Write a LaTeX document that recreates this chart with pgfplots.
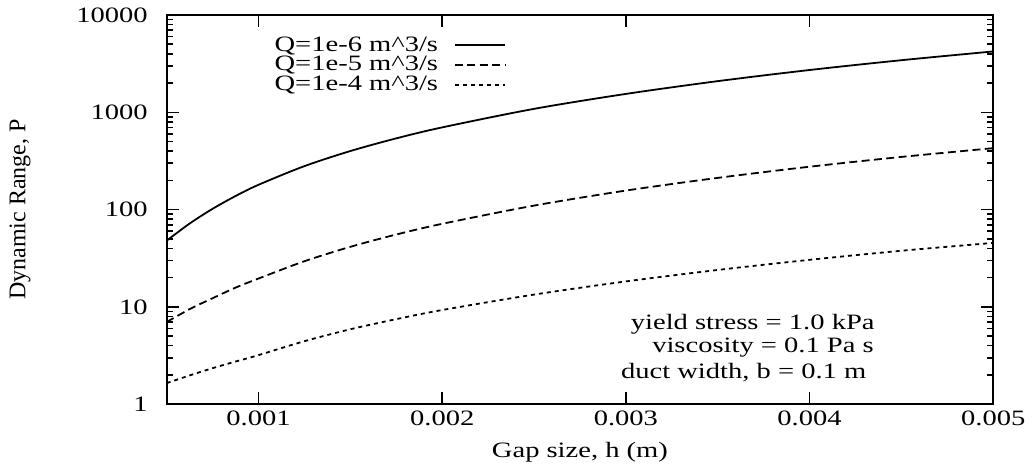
\documentclass[border=0pt]{standalone}
\usepackage{fontspec}
\setmainfont{Liberation Serif}[FakeStretch=1.3]
\newfontfamily\ylabfont{Liberation Serif}
\usepackage{pgfplots}
\pgfplotsset{compat=1.18}
\begin{document}
\begin{tikzpicture}[font=\fontsize{11}{13}\selectfont]
\begin{axis}[name=ax, scale only axis, width=414pt, height=195pt,
  xmin=0.0005, xmax=0.005, ymode=log, ymin=1, ymax=10000,
  xtick={0.001,0.002,0.003,0.004,0.005},
  xticklabels={0.001,0.002,0.003,0.004,0.005},
  scaled x ticks=false,
  ytick={1,10,100,1000,10000},
  yticklabels={1,10,100,1000,10000},
  axis line style={line width=1pt},
  major tick length=6pt, minor tick length=3pt,
  tick style={line width=0.8pt, black},
  yticklabel style={xshift=-6pt},
  xlabel={Gap size, h (m)},
  ylabel={\ylabfont\fontsize{12}{14}\selectfont Dynamic Range, P},
  xlabel style={at={(rel axis cs:0.5,-0.123)}, anchor=center},
  ylabel style={at={(rel axis cs:-0.1775,0.5)}, anchor=center},
  legend style={draw=none, fill=none, at={(rel axis cs:0.418,0.956)}, anchor=north east,
    column sep=8pt, row sep=1.2pt, nodes={inner sep=0pt}},
  legend cell align=right,
  legend plot pos=right,
  legend image code/.code={\draw[#1] (0pt,0pt) -- (25pt,0pt);},
]
\addplot[black, line width=0.9pt, smooth] coordinates {
(0.0005,48)(0.000625,72)(0.00075,102)(0.000875,138)(0.001,180)(0.00125,280)(0.0015,400)(0.00175,540)(0.002,700)(0.0025,1085)(0.003,1545)(0.0035,2090)(0.004,2720)(0.0045,3430)(0.005,4220)};
\addlegendentry{Q=1e-6 m\^{}3/s}
\addplot[black, line width=0.9pt, smooth, dash pattern=on 4pt off 2.2pt] coordinates {
(0.0005,7.0)(0.000625,9.5)(0.00075,12.3)(0.000875,15.8)(0.001,19.6)(0.00125,29.5)(0.0015,41.5)(0.00175,55.5)(0.002,71.5)(0.0025,110)(0.003,157)(0.0035,212)(0.004,276)(0.0045,348)(0.005,428)};
\addlegendentry{Q=1e-5 m\^{}3/s}
\addplot[black, line width=0.9pt, smooth, dash pattern=on 2pt off 2pt] coordinates {
(0.0005,1.65)(0.000625,1.98)(0.00075,2.35)(0.000875,2.75)(0.001,3.2)(0.00125,4.45)(0.0015,5.9)(0.00175,7.5)(0.002,9.3)(0.0025,13.4)(0.003,18.3)(0.0035,24)(0.004,30.5)(0.0045,37.8)(0.005,45.5)};
\addlegendentry{Q=1e-4 m\^{}3/s}
\node[anchor=east] at (rel axis cs:0.865,0.205) {yield stress = 1.0 kPa};
\node[anchor=east] at (rel axis cs:0.864,0.146) {viscosity = 0.1 Pa s};
\node[anchor=east] at (rel axis cs:0.855,0.082) {duct width, b = 0.1 m};
\end{axis}
\path ([shift={(-83.5pt,-30.5pt)}]ax.south west) rectangle ([shift={(18.5pt,7.5pt)}]ax.north east);
\end{tikzpicture}
\end{document}
